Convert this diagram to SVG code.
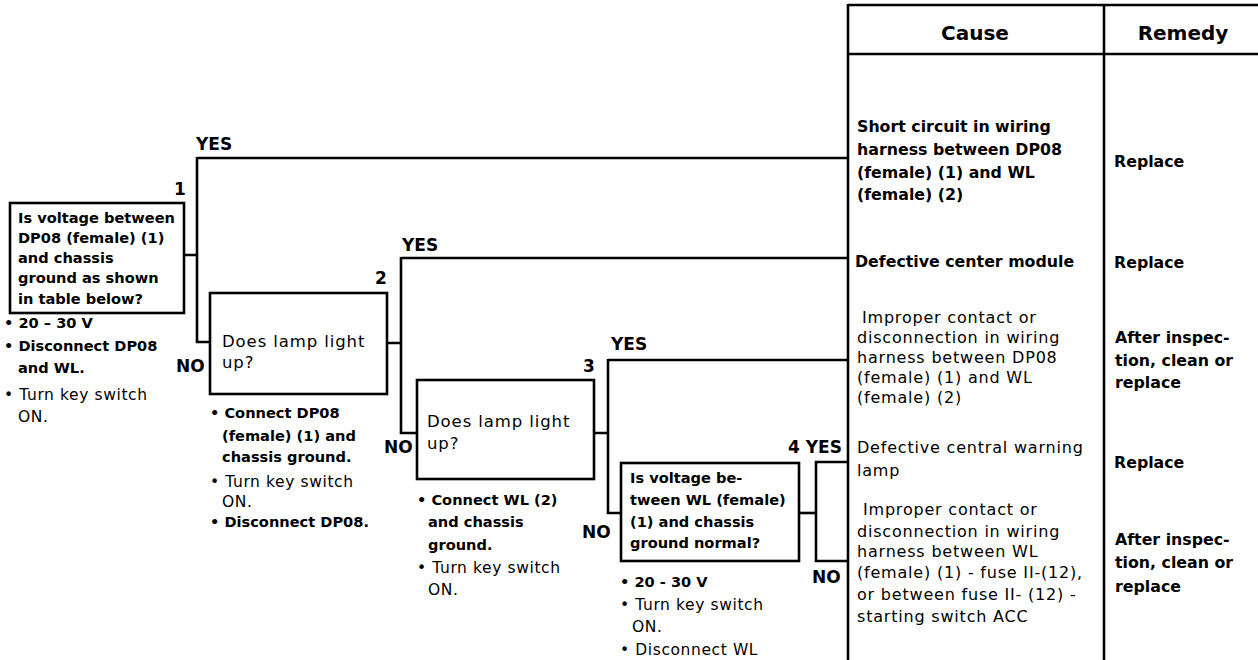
<svg xmlns="http://www.w3.org/2000/svg" width="1258" height="660" viewBox="0 0 1258 660">
<style>
text{font-family:"DejaVu Sans","Liberation Sans",sans-serif;fill:#000}
.b{font-weight:bold;font-size:14.6px}
.r{font-size:15.5px;letter-spacing:0.6px}
.q{font-size:16.5px;letter-spacing:0.9px}
.t{font-weight:bold;font-size:15.8px}
.tr{font-size:16px;letter-spacing:0.8px}
.lab{font-weight:bold;font-size:17px}
.hd{font-weight:bold;font-size:20px}
.box{fill:#fff;stroke:#000;stroke-width:2.6}
.ln{fill:none;stroke:#000;stroke-width:2.6}
</style>
<rect width="1258" height="660" fill="#fff"/>

<g id="table">
<path class="ln" d="M848,5 H1258 M848,54 H1258 M848,4 V660 M1104,4 V660"/>
<text class="hd" x="975" y="40" text-anchor="middle">Cause</text>
<text class="hd" x="1183" y="40" text-anchor="middle">Remedy</text>
<text class="t" x="857" y="132">Short circuit in wiring</text>
<text class="t" x="857" y="155">harness between DP08</text>
<text class="t" x="857" y="178">(female) (1) and WL</text>
<text class="t" x="857" y="200">(female) (2)</text>
<text class="t" x="1114" y="167">Replace</text>
<text class="t" x="855" y="267">Defective center module</text>
<text class="t" x="1114" y="268">Replace</text>
<text class="tr" x="862" y="323">Improper  contact or</text>
<text class="tr" x="857" y="343">disconnection in wiring</text>
<text class="tr" x="857" y="363">harness between DP08</text>
<text class="tr" x="857" y="383">(female) (1) and WL</text>
<text class="tr" x="857" y="403">(female) (2)</text>
<text class="t" x="1115" y="343">After inspec-</text>
<text class="t" x="1115" y="366">tion, clean or</text>
<text class="t" x="1115" y="388">replace</text>
<text class="tr" x="857" y="453">Defective central warning</text>
<text class="tr" x="857" y="476">lamp</text>
<text class="t" x="1114" y="468">Replace</text>
<text class="tr" x="863" y="515">Improper  contact or</text>
<text class="tr" x="857" y="537">disconnection in wiring</text>
<text class="tr" x="857" y="557">harness between WL</text>
<text class="tr" x="857" y="578">(female) (1) - fuse II-(12),</text>
<text class="tr" x="857" y="600">or between fuse II- (12) -</text>
<text class="tr" x="857" y="622">starting switch ACC</text>
<text class="t" x="1115" y="545">After inspec-</text>
<text class="t" x="1115" y="568">tion, clean or</text>
<text class="t" x="1115" y="592">replace</text>
</g>

<g id="connectors">
<path class="ln" d="M184,255 H197 M197,157 V342 H210 M197,158 H848"/>
<path class="ln" d="M387,343 H401 M401,257 V433 H417 M401,258 H848"/>
<path class="ln" d="M594,433 H608 M608,359 V513 H621 M608,360 H848"/>
<path class="ln" d="M799,513 H816"/>
<text class="lab" x="196" y="150">YES</text>
<text class="lab" x="402" y="251">YES</text>
<text class="lab" x="611" y="350">YES</text>
<text class="lab" x="176" y="372">NO</text>
<text class="lab" x="384" y="453">NO</text>
<text class="lab" x="582" y="538">NO</text>
<text class="lab" x="812" y="583">NO</text>
</g>

<g id="n1">
<rect class="box" x="10" y="203" width="174" height="110"/>
<text class="lab" x="174" y="195">1</text>
<text class="b" x="18" y="223">Is voltage between</text>
<text class="b" x="18" y="243">DP08 (female) (1)</text>
<text class="b" x="18" y="263">and chassis</text>
<text class="b" x="18" y="283">ground as shown</text>
<text class="b" x="18" y="304">in table below?</text>
<text class="b" x="4" y="328">• 20 – 30 V</text>
<text class="b" x="4" y="351">• Disconnect DP08</text>
<text class="b" x="18" y="373">and WL.</text>
<text class="r" x="4" y="400">• Turn key switch</text>
<text class="r" x="18" y="422">ON.</text>
</g>

<g id="n2">
<rect class="box" x="210" y="293" width="177" height="101"/>
<text class="lab" x="375" y="284">2</text>
<text class="q" x="222" y="347">Does lamp light</text>
<text class="q" x="222" y="368">up?</text>
<text class="b" x="210" y="418">• Connect DP08</text>
<text class="b" x="222" y="441">(female) (1) and</text>
<text class="b" x="222" y="462">chassis ground.</text>
<text class="r" x="210" y="487">• Turn key switch</text>
<text class="r" x="222" y="507">ON.</text>
<text class="b" x="210" y="527">• Disconnect DP08.</text>
</g>

<g id="n3">
<rect class="box" x="417" y="380" width="177" height="99"/>
<text class="lab" x="583" y="372">3</text>
<text class="q" x="427" y="427">Does lamp light</text>
<text class="q" x="427" y="449">up?</text>
<text class="b" x="417" y="505">• Connect WL (2)</text>
<text class="b" x="428" y="527">and chassis</text>
<text class="b" x="428" y="550">ground.</text>
<text class="r" x="417" y="573">• Turn key switch</text>
<text class="r" x="428" y="595">ON.</text>
</g>

<g id="n4v">
<rect class="box" x="621" y="463" width="178" height="98"/>
<text class="b" x="630" y="483">Is voltage be-</text>
<text class="b" x="630" y="505">tween WL (female)</text>
<text class="b" x="630" y="527">(1) and chassis</text>
<text class="b" x="630" y="548">ground normal?</text>
<text class="b" x="620" y="587">• 20 - 30 V</text>
<text class="r" x="620" y="610">• Turn key switch</text>
<text class="r" x="632" y="632">ON.</text>
<text class="r" x="620" y="655">• Disconnect WL</text>
</g>

<g id="n4">
<path class="ln" d="M848,462 H816 V561 H848"/>
<text class="lab" x="788" y="453">4 YES</text>
</g>
</svg>
